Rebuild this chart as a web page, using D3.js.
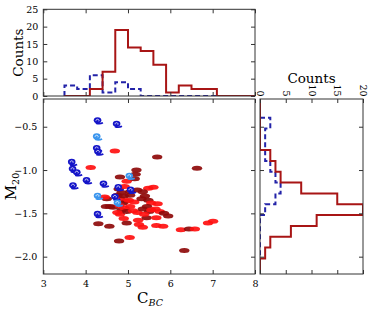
<!DOCTYPE html>
<html>
<head>
<meta charset="utf-8">
<script src="https://d3js.org/d3.v7.min.js"></script>
<style>
  body { margin: 0; background: #fff; }
  svg text { font-family: "DejaVu Serif", serif; fill: #000; }
  .tick line { stroke: #333; }
</style>
</head>
<body>
<div id="chart"></div>
<script>
// top histogram (C_BC), bin edges and counts
const topEdgesRed = [3.5, 3.8, 4.1, 4.4, 4.7, 5.0, 5.3, 5.6, 5.9, 6.2, 6.5, 6.8, 7.1, 7.4, 7.7, 8.0];
const topCountsRed = [0, 0, 2, 7, 19, 14, 13, 9, 1, 3, 2, 2, 0, 0, 0];
const topEdgesBlue = [3.5, 3.8, 4.1, 4.4, 4.7, 5.0, 5.3, 5.6, 5.9, 6.2, 6.5, 6.8, 7.1];
const topCountsBlue = [3, 2, 6, 1, 4, 2, 0, 0, 0, 0, 0, 0];

// side histogram (M20)
const sideEdgesRed = [-0.145, -0.27, -0.395, -0.52, -0.645, -0.77, -0.895, -1.02, -1.145, -1.27, -1.395, -1.52, -1.645, -1.77, -1.895, -2.02, -2.145, -2.27];
const sideCountsRed = [0, 0, 0, 0, 0, 2, 3, 4, 8, 15, 20, 11, 6, 2, 1, 0, 0];
const sideEdgesBlue = [-0.395, -0.52, -0.645, -0.77, -0.895, -1.02, -1.145, -1.27, -1.395, -1.52, -1.645, -1.77, -1.895, -2.02];
const sideCountsBlue = [2, 1, 1, 1, 2, 3, 4, 3, 1, 0, 0, 0, 0];

// scatter: red sample (b = bright red, d = dark red)
const redX = [4.69, 5.69, 4.12, 6.63, 5.20, 5.18, 4.97, 5.48, 4.30, 4.56, 4.97, 4.79, 5.04, 6.33, 5.24, 5.26, 5.44, 5.67, 5.95, 5.67,
  5.83, 6.25, 6.44, 6.58, 6.89, 7.01, 4.81, 4.81, 5.16, 5.60, 4.78, 4.92, 5.05, 5.22, 5.35, 4.85, 4.50, 4.45, 4.75, 4.82,
  4.90, 4.95, 4.88, 5.02, 5.05, 5.15, 5.32, 5.40, 5.48, 5.55, 5.70, 4.48, 4.58, 4.65, 4.80, 4.85, 4.92, 4.97, 4.75, 5.05,
  5.12, 5.22, 5.35, 5.45, 5.50, 5.38, 5.55, 5.65, 5.75, 5.85, 4.90, 5.35];
const redY = [-0.78, -0.85, -0.97, -0.98, -1.00, -1.05, -1.13, -1.21, -1.62, -1.65, -1.61, -1.82, -1.78, -1.93, -1.58, -1.63, -1.55, -1.55, -1.53, -1.64,
  -1.65, -1.69, -1.68, -1.68, -1.61, -1.59, -1.51, -1.08, -1.10, -1.20, -1.22, -1.19, -1.25, -1.23, -1.25, -1.26, -1.33, -1.31, -1.29, -1.33,
  -1.30, -1.36, -1.38, -1.35, -1.29, -1.37, -1.33, -1.30, -1.35, -1.38, -1.39, -1.42, -1.42, -1.43, -1.41, -1.46, -1.44, -1.48, -1.49, -1.42,
  -1.47, -1.49, -1.45, -1.42, -1.48, -1.51, -1.46, -1.45, -1.48, -1.50, -1.56, -1.66];
const redType = ["b", "d", "b", "d", "d", "d", "b", "b", "d", "d", "d", "d", "b", "d", "b", "b", "d", "b", "d", "b",
  "b", "b", "d", "b", "b", "b", "b", "d", "d", "b", "d", "b", "d", "d", "d", "d", "d", "b", "d", "b",
  "d", "b", "d", "b", "d", "b", "d", "d", "d", "b", "b", "d", "d", "d", "b", "d", "b", "d", "b", "b",
  "b", "b", "d", "d", "d", "b", "b", "b", "b", "d", "b", "b"];

// scatter: blue sample (n = blue, l = light blue)
const blueX = [4.30, 4.75, 4.28, 4.28, 4.31, 3.69, 3.71, 3.81, 4.04, 4.44, 3.72, 5.05, 4.79, 5.08, 4.30, 4.71, 4.77, 4.30];
const blueY = [-0.43, -0.47, -0.615, -0.75, -0.79, -0.91, -0.99, -1.03, -1.12, -1.16, -1.18, -1.07, -1.20, -1.23, -1.30, -1.31, -1.38, -1.51];
const blueType = ["n", "n", "l", "n", "n", "n", "n", "n", "n", "n", "n", "l", "n", "n", "l", "n", "l", "n"];

const xTicks = [3, 4, 5, 6, 7, 8];
const yTicks = [-0.5, -1.0, -1.5, -2.0];
const countTicksTop = [0, 5, 10, 15, 20, 25];
const countTicksSide = [0, 5, 10, 15, 20];

const W = 374, H = 310;
const svg = d3.select("#chart").append("svg")
    .attr("width", W).attr("height", H);

// panel scales
const x = d3.scaleLinear().domain([3, 8]).range([43.3, 255]);
const y = d3.scaleLinear().domain([-2.2, -0.18]).range([274, 99]);
const yTop = d3.scaleLinear().domain([0, 25]).range([96, 9.3]);
const xSide = d3.scaleLinear().domain([0, 20]).range([260, 363]);

const main = {x0: x.range()[0], x1: x.range()[1], y0: y.range()[1], y1: y.range()[0]};
const topP = {x0: x.range()[0], x1: x.range()[1], y0: yTop.range()[1], y1: yTop.range()[0]};
const side = {x0: xSide.range()[0], x1: xSide.range()[1], y0: y.range()[1], y1: y.range()[0]};

const defs = svg.append("defs");
function clip(id, p) {
  defs.append("clipPath").attr("id", id).append("rect")
      .attr("x", p.x0).attr("y", p.y0).attr("width", p.x1 - p.x0).attr("height", p.y1 - p.y0);
}
clip("clipMain", main);
clip("clipTop", topP);
clip("clipSide", side);

// step outline like histtype='step'
function steps(edges, counts) {
  const pts = [[edges[0], 0]];
  counts.forEach((c, i) => { pts.push([edges[i], c]); pts.push([edges[i + 1], c]); });
  pts.push([edges[edges.length - 1], 0]);
  return pts;
}

// ---- top histogram
const gTop = svg.append("g").attr("clip-path", "url(#clipTop)");
const lineTop = d3.line().x(d => x(d[0])).y(d => yTop(d[1]));
gTop.append("path").datum(steps(topEdgesBlue, topCountsBlue))
    .attr("d", lineTop).attr("fill", "none")
    .attr("stroke", "#2323a8").attr("stroke-width", 2).attr("stroke-dasharray", "5,3");
gTop.append("path").datum(steps(topEdgesRed, topCountsRed))
    .attr("d", lineTop).attr("fill", "none")
    .attr("stroke", "#a81515").attr("stroke-width", 2);

// ---- side histogram
const gSide = svg.append("g").attr("clip-path", "url(#clipSide)");
const lineSide = d3.line().x(d => xSide(d[1])).y(d => y(d[0]));
gSide.append("path").datum(steps(sideEdgesBlue, sideCountsBlue))
    .attr("d", lineSide).attr("fill", "none")
    .attr("stroke", "#2323a8").attr("stroke-width", 2).attr("stroke-dasharray", "5,3");
gSide.append("path").datum(steps(sideEdgesRed, sideCountsRed))
    .attr("d", lineSide).attr("fill", "none")
    .attr("stroke", "#a81515").attr("stroke-width", 2);

// ---- scatter
const gMain = svg.append("g").attr("clip-path", "url(#clipMain)");
const reds = redX.map((v, i) => ({x: v, y: redY[i], t: redType[i]}));
const blues = blueX.map((v, i) => ({x: v, y: blueY[i], t: blueType[i]}));

gMain.selectAll(".red").data(reds).enter()
  .append("ellipse")
    .attr("class", "red")
    .attr("cx", d => x(d.x)).attr("cy", d => y(d.y))
    .attr("rx", 5.2).attr("ry", 2.5)
    .attr("fill", d => d.t === "b" ? "#ff1010" : "#8e0a0a")
    .attr("fill-opacity", 0.92);

// spiral-like glyph for the blue sample
const gBlue = gMain.selectAll(".blue").data(blues).enter()
  .append("g")
    .attr("class", "blue")
    .attr("transform", d => `translate(${x(d.x)},${y(d.y)})`);
const bcol = d => d.t === "l" ? "#3a95ee" : "#1515c8";
gBlue.append("ellipse")
    .attr("cx", -0.8).attr("cy", -0.3).attr("rx", 3.8).attr("ry", 3.1)
    .attr("fill", bcol);
gBlue.append("path")
    .attr("d", "M-2.3,0.2 A1.5,1.3 0 1 1 0.4,0.6")
    .attr("fill", "none").attr("stroke", "#fff").attr("stroke-width", 0.9).attr("opacity", 0.85);
gBlue.append("path")
    .attr("d", "M-2.5,2.6 Q1.5,3.8 4.6,2.2")
    .attr("fill", "none").attr("stroke", bcol).attr("stroke-width", 1.7);

// ---- axes (ticks point inward on every side)
function styleAxis(g) {
  g.select(".domain").remove();
  g.selectAll("text").style("font-size", "9.5px").attr("fill", "#000");
}
const fmt1 = d3.format(".1f");

// main panel
svg.append("g").attr("transform", `translate(0,${main.y1})`)
  .call(d3.axisBottom(x).tickValues(xTicks).tickSize(-4).tickPadding(6).tickFormat(d3.format("d")))
  .call(styleAxis);
svg.append("g").attr("transform", `translate(0,${main.y0})`)
  .call(d3.axisTop(x).tickValues(xTicks).tickSize(-4).tickFormat(""))
  .call(styleAxis);
svg.append("g").attr("transform", `translate(${main.x0},0)`)
  .call(d3.axisLeft(y).tickValues(yTicks).tickSize(-4).tickPadding(6).tickFormat(fmt1))
  .call(styleAxis);
svg.append("g").attr("transform", `translate(${main.x1},0)`)
  .call(d3.axisRight(y).tickValues(yTicks).tickSize(-4).tickFormat(""))
  .call(styleAxis);

// top histogram
svg.append("g").attr("transform", `translate(0,${topP.y1})`)
  .call(d3.axisBottom(x).tickValues(xTicks).tickSize(-4).tickFormat(""))
  .call(styleAxis);
svg.append("g").attr("transform", `translate(0,${topP.y0})`)
  .call(d3.axisTop(x).tickValues(xTicks).tickSize(-4).tickFormat(""))
  .call(styleAxis);
svg.append("g").attr("transform", `translate(${topP.x0},0)`)
  .call(d3.axisLeft(yTop).tickValues(countTicksTop).tickSize(-4).tickPadding(5).tickFormat(d3.format("d")))
  .call(styleAxis);
svg.append("g").attr("transform", `translate(${topP.x1},0)`)
  .call(d3.axisRight(yTop).tickValues(countTicksTop).tickSize(-4).tickFormat(""))
  .call(styleAxis);

// side histogram
svg.append("g").attr("transform", `translate(0,${side.y0})`)
  .call(d3.axisTop(xSide).tickValues(countTicksSide).tickSize(-4).tickFormat(d3.format("d")))
  .call(styleAxis)
  .call(g => g.selectAll("text")
      .attr("y", 0).attr("dy", "0.35em")
      .attr("text-anchor", "end")
      .attr("transform", "translate(0,-2.5) rotate(90)"));
svg.append("g").attr("transform", `translate(0,${side.y1})`)
  .call(d3.axisBottom(xSide).tickValues(countTicksSide).tickSize(-4).tickFormat(""))
  .call(styleAxis);
svg.append("g").attr("transform", `translate(${side.x0},0)`)
  .call(d3.axisLeft(y).tickValues(yTicks).tickSize(-4).tickFormat(""))
  .call(styleAxis);
svg.append("g").attr("transform", `translate(${side.x1},0)`)
  .call(d3.axisRight(y).tickValues(yTicks).tickSize(-4).tickFormat(""))
  .call(styleAxis);

// panel frames
[main, topP, side].forEach(p => {
  svg.append("rect")
      .attr("x", p.x0).attr("y", p.y0)
      .attr("width", p.x1 - p.x0).attr("height", p.y1 - p.y0)
      .attr("fill", "none").attr("stroke", "#333").attr("stroke-width", 1);
});

// ---- labels
svg.append("text")
    .attr("transform", `translate(23,${(topP.y0 + topP.y1) / 2}) rotate(-90)`)
    .attr("text-anchor", "middle").style("font-size", "13.5px")
    .text("Counts");
svg.append("text")
    .attr("x", (side.x0 + side.x1) / 2).attr("y", 83)
    .attr("text-anchor", "middle").style("font-size", "13.5px")
    .text("Counts");

const xl = svg.append("text")
    .attr("x", 150).attr("y", 303)
    .attr("text-anchor", "middle").style("font-size", "15px");
xl.append("tspan").text("C");
xl.append("tspan").attr("dy", 3).style("font-size", "9.5px").style("font-style", "italic").text("BC");

const yl = svg.append("text")
    .attr("transform", `translate(16,${(main.y0 + main.y1) / 2}) rotate(-90)`)
    .attr("text-anchor", "middle").style("font-size", "15px");
yl.append("tspan").text("M");
yl.append("tspan").attr("dy", 3).style("font-size", "9.5px").text("20");
</script>
</body>
</html>
